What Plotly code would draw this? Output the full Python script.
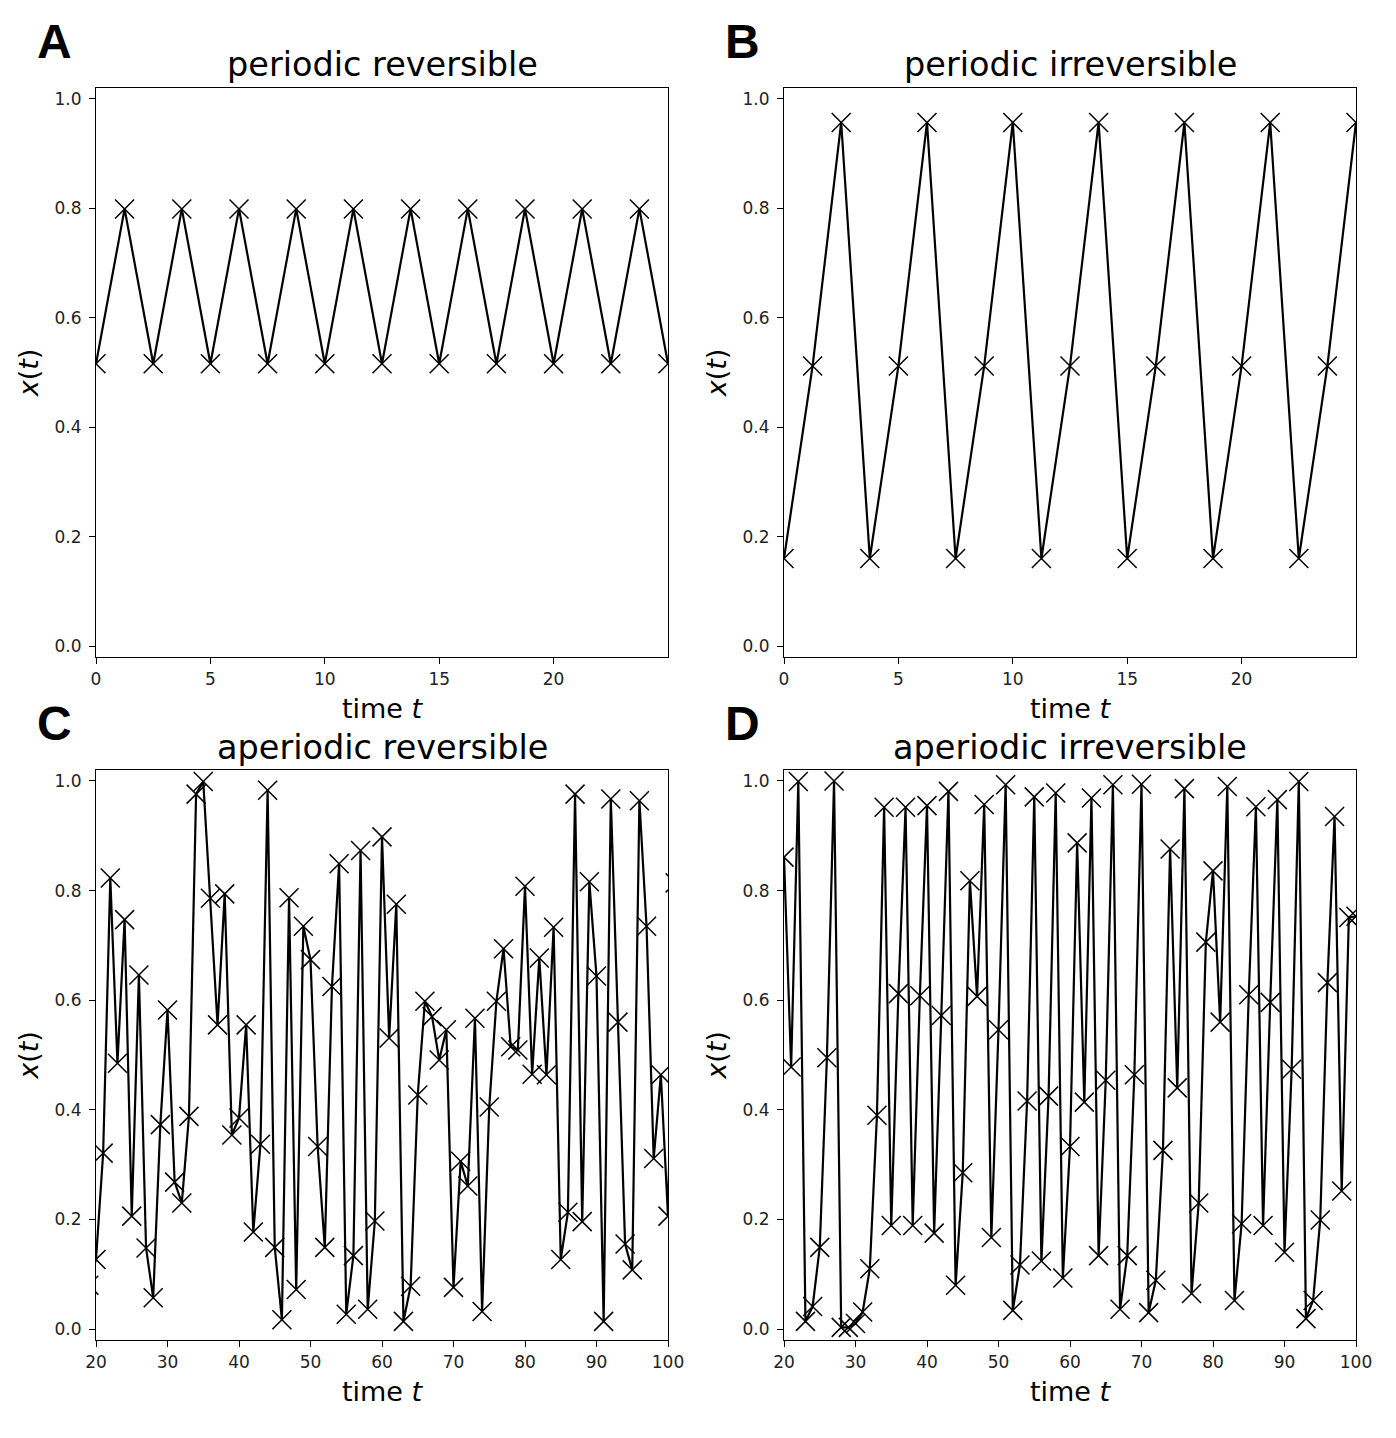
import plotly.graph_objects as go

# panel A / B: periodic orbits, sampled every 1.25 time units
t_per = [0, 1.25, 2.5, 3.75, 5, 6.25, 7.5, 8.75, 10, 11.25, 12.5, 13.75, 15,
         16.25, 17.5, 18.75, 20, 21.25, 22.5, 23.75, 25]
x_rev = [0.516, 0.799, 0.516, 0.799, 0.516, 0.799, 0.516, 0.799, 0.516, 0.799,
         0.516, 0.799, 0.516, 0.799, 0.516, 0.799, 0.516, 0.799, 0.516, 0.799, 0.516]
x_irr = [0.160, 0.512, 0.957, 0.160, 0.512, 0.957, 0.160, 0.512, 0.957, 0.160,
         0.512, 0.957, 0.160, 0.512, 0.957, 0.160, 0.512, 0.957, 0.160, 0.512, 0.957]

# panel C: aperiodic reversible, t = 19..101
t_aper_rev = list(range(19, 102))
x_aper_rev = [0.080, 0.127, 0.321, 0.823, 0.485, 0.747, 0.206, 0.646, 0.148, 0.057,
              0.373, 0.582, 0.268, 0.230, 0.388, 0.976, 0.999, 0.786, 0.555, 0.794,
              0.354, 0.385, 0.555, 0.177, 0.337, 0.983, 0.149, 0.017, 0.787, 0.072,
              0.735, 0.674, 0.333, 0.149, 0.625, 0.849, 0.027, 0.134, 0.873, 0.036,
              0.197, 0.898, 0.531, 0.775, 0.014, 0.078, 0.427, 0.598, 0.570, 0.491,
              0.546, 0.076, 0.306, 0.261, 0.567, 0.032, 0.405, 0.598, 0.694, 0.515,
              0.509, 0.808, 0.465, 0.677, 0.464, 0.733, 0.127, 0.213, 0.976, 0.196,
              0.816, 0.644, 0.014, 0.967, 0.560, 0.155, 0.108, 0.964, 0.735, 0.311,
              0.464, 0.206, 0.814]

# panel D: aperiodic irreversible, t = 20..100
t_aper_irr = list(range(20, 101))
x_aper_irr = [0.861, 0.478, 0.999, 0.014, 0.041, 0.149, 0.495, 1.000, 0.003, 0.003,
              0.010, 0.031, 0.110, 0.390, 0.952, 0.189, 0.612, 0.952, 0.189, 0.608,
              0.955, 0.175, 0.572, 0.981, 0.080, 0.285, 0.818, 0.607, 0.957, 0.167,
              0.546, 0.993, 0.034, 0.117, 0.416, 0.971, 0.124, 0.425, 0.978, 0.093,
              0.333, 0.887, 0.414, 0.969, 0.134, 0.454, 0.993, 0.036, 0.134, 0.464,
              0.994, 0.030, 0.089, 0.326, 0.876, 0.440, 0.986, 0.065, 0.230, 0.706,
              0.836, 0.560, 0.990, 0.052, 0.192, 0.610, 0.953, 0.189, 0.596, 0.966,
              0.140, 0.474, 0.999, 0.019, 0.052, 0.199, 0.632, 0.935, 0.252, 0.751,
              0.753]

titles = ["periodic reversible", "periodic irreversible",
          "aperiodic reversible", "aperiodic irreversible"]
letters = ["A", "B", "C", "D"]

# page body has an 8px margin, so the figure is a bit smaller and shifted
OFF = 8
W, H = 1396 - 2 * OFF, 1438 - 2 * OFF
# axes boxes in page pixels (left, right, top, bottom)
boxes = [(96, 668, 88, 657), (784, 1356, 88, 657),
         (96, 668, 770, 1340), (784, 1356, 770, 1340)]

fig = go.Figure()
series = [(t_per, x_rev), (t_per, x_irr), (t_aper_rev, x_aper_rev), (t_aper_irr, x_aper_irr)]
for i, (tt, xx) in enumerate(series):
    sfx = "" if i == 0 else str(i + 1)
    fig.add_trace(go.Scatter(
        x=tt, y=xx, mode="lines+markers", xaxis="x" + sfx, yaxis="y" + sfx,
        line=dict(color="black", width=2.2),
        marker=dict(symbol="x-thin-open", size=19, color="black",
                    line=dict(color="black", width=1.5)),
        showlegend=False))

font = "DejaVu Sans"
axfont = dict(family=font, size=17, color="#222")
annotations = []
for i, (l, r, t, b) in enumerate(boxes):
    l, r, t, b = l - OFF, r - OFF, t - OFF, b - OFF
    sfx = "" if i == 0 else str(i + 1)
    xdom = [l / W, r / W]
    ydom = [1 - b / H, 1 - t / H]
    if i < 2:
        xr, xticks = [0, 25], [0, 5, 10, 15, 20]
    else:
        xr, xticks = [20, 100], list(range(20, 101, 10))
    common = dict(showline=True, linecolor="black", linewidth=1.2, mirror=True,
                  ticks="outside", ticklen=6, tickwidth=1.2, tickcolor="black",
                  showgrid=False, zeroline=False, tickfont=axfont, automargin=False)
    fig.layout["xaxis" + sfx] = dict(
        domain=xdom, range=xr, tickvals=xticks, anchor="y" + sfx,
        title=dict(text="time <i>t</i>", font=dict(family=font, size=27, color="black"),
                   standoff=11),
        **common)
    fig.layout["yaxis" + sfx] = dict(
        domain=ydom, range=[-0.02, 1.02], tickvals=[0, 0.2, 0.4, 0.6, 0.8, 1.0],
        tickformat=".1f", anchor="x" + sfx, ticklabelstandoff=4,
        title=dict(text="<i>x</i>(<i>t</i>)", font=dict(family=font, size=27, color="black"),
                   standoff=8),
        **common)
    annotations.append(dict(
        text=titles[i], x=(l + r) / 2 / W, y=1 - (t - 23) / H, xref="paper", yref="paper",
        xanchor="center", yanchor="middle", showarrow=False,
        font=dict(family=font, size=33.5, color="black")))
    annotations.append(dict(
        text="<b>" + letters[i] + "</b>", x=(l - 61) / W, y=1 - (t - 47) / H,
        xref="paper", yref="paper", xanchor="left", yanchor="middle", showarrow=False,
        font=dict(family="Liberation Sans", size=48, color="black")))

fig.update_layout(width=W, height=H, margin=dict(l=0, r=0, t=0, b=0, pad=0),
                  autosize=False, plot_bgcolor="white", paper_bgcolor="white",
                  annotations=annotations)
fig.write_html("out.html")
